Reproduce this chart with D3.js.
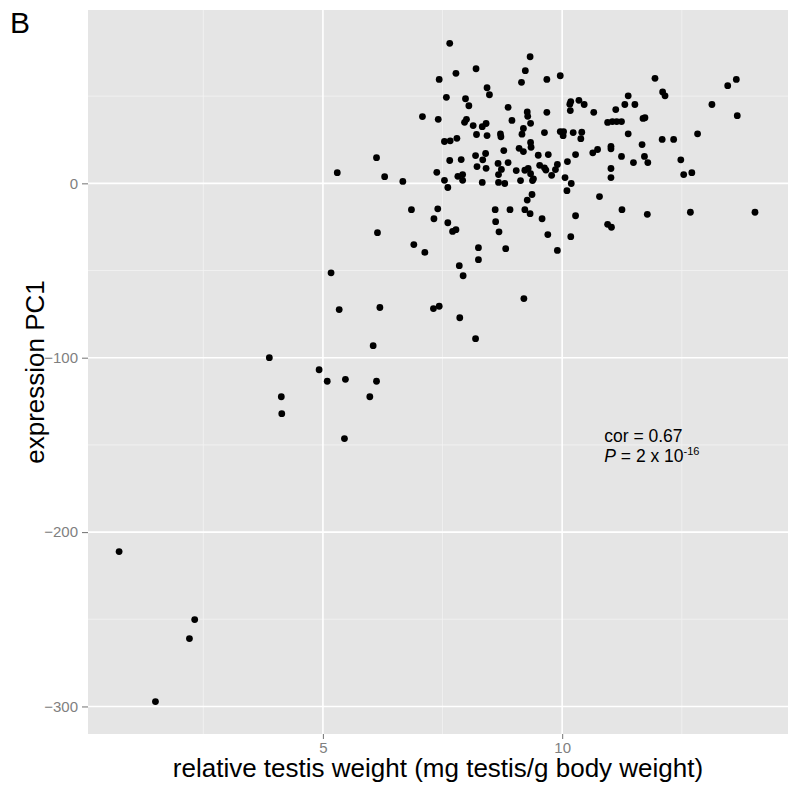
<!DOCTYPE html>
<html><head><meta charset="utf-8">
<script src="https://cdn.jsdelivr.net/npm/d3@7"></script>
<style>body{margin:0;background:#fff}</style>
</head><body>
<svg id="chart" width="799" height="798"></svg>
<script>
const testisWeight = [5.30,6.12,6.29,7.65,9.33,8.20,9.23,7.78,9.96,7.43,
9.15,9.68,11.94,13.64,13.46,8.43,8.48,11.38,12.10,12.15,
7.58,7.98,8.05,10.18,10.16,10.35,10.46,11.31,11.52,13.13,
8.87,10.17,11.12,10.66,9.68,9.27,9.28,13.66,7.08,7.41,
8.00,7.96,8.95,9.34,10.95,11.05,11.14,11.24,11.73,11.69,
8.14,8.33,8.41,9.19,9.16,8.21,8.43,8.71,8.72,9.63,
9.96,10.03,10.02,10.23,10.41,10.39,11.38,12.09,12.33,12.83,
7.54,7.66,7.80,9.34,9.35,9.10,9.19,8.78,11.02,11.02,
11.67,10.64,10.74,8.19,8.40,8.34,9.50,9.71,10.28,11.24,
11.72,11.79,11.49,12.48,7.65,7.89,8.87,8.66,8.73,8.67,
8.22,8.41,9.04,9.22,9.29,9.34,9.40,9.38,9.53,9.63,
9.66,9.78,9.86,9.90,10.11,11.02,11.02,12.54,12.71,7.38,
7.54,7.61,7.82,7.92,7.92,8.33,8.67,8.80,9.13,10.06,
10.19,10.10,9.37,9.27,10.78,6.67,6.85,7.40,7.32,7.61,
7.71,7.78,6.14,6.90,7.13,8.25,8.25,8.82,8.60,8.91,
8.61,8.68,9.22,9.33,9.58,9.70,7.85,7.93,5.17,5.34,
6.19,7.31,7.43,7.86,8.19,9.20,6.05,9.90,10.18,10.28,
11.25,11.78,12.68,14.03,10.95,11.03,3.88,4.92,5.09,5.47,
6.12,4.13,5.98,4.14,5.45,0.74,2.32,2.21,1.50];
const expressionPC1 = [6.1,14.7,3.8,80.3,72.6,65.7,64.6,63.1,61.7,59.6,
57.9,59.6,60.2,59.6,56.0,54.8,50.8,50.2,52.4,50.2,
49.3,48.5,44.5,46.9,45.4,47.6,45.2,45.2,45.2,45.2,
43.6,41.7,42.3,40.7,40.7,40.9,38.4,38.8,38.3,36.7,
36.7,35.0,36.1,34.4,34.9,35.4,35.4,35.4,37.6,37.2,
33.1,32.5,34.3,31.5,28.2,28.0,27.4,28.3,26.7,29.1,
29.7,29.7,27.3,29.1,29.3,25.6,28.4,25.2,25.2,28.4,
24.0,24.4,25.8,23.4,20.7,20.1,18.2,18.8,21.2,19.8,
22.2,17.5,19.4,15.9,17.1,13.5,16.1,16.5,16.5,15.4,
15.4,11.9,11.9,13.5,13.1,13.6,11.9,11.4,8.0,5.0,
9.6,8.6,7.3,7.5,8.5,5.5,2.6,1.6,10.3,8.9,
7.6,4.6,7.9,10.8,12.5,8.5,3.3,5.0,6.1,6.3,
1.7,-2.4,4.0,5.0,1.7,0.5,0.5,-0.1,1.6,3.3,
-0.1,-4.2,-6.4,-9.6,-7.6,1.1,-15.1,-14.6,-20.3,-22.6,
-27.6,-26.6,-28.3,-35.1,-39.6,-36.9,-43.8,-37.5,-15.1,-15.1,
-22.0,-27.8,-15.1,-17.4,-20.3,-29.4,-47.2,-53.0,-51.3,-72.4,
-71.2,-71.8,-70.5,-77.1,-89.1,-66.1,-93.1,-38.5,-30.6,-18.6,
-15.1,-17.8,-16.6,-16.6,-23.5,-25.2,-100.0,-106.9,-113.5,-112.4,
-113.5,-122.4,-122.4,-132.1,-146.4,-211.2,-250.2,-261.1,-297.2];
const xTicks = [5, 10];
const xMinorTicks = [2.5, 7.5, 12.5];
const yTicks = [-300, -200, -100, 0];
const yMinorTicks = [-250, -150, -50, 50];
const xDomain = [0.09, 14.72];
const yDomain = [-315.8, 99.4];
const panelLabel = "B";
const xTitle = "relative testis weight (mg testis/g body weight)";
const yTitle = "expression PC1";
const corText = "cor = 0.67";
const annotX = 10.88, annotY1 = -148.2, annotY2 = -159.6;

const svg = d3.select("#chart");
const font = "'Liberation Sans', Arial, Helvetica, sans-serif";
const L = 88, R = 788, T = 10, B = 734;
const x = d3.scaleLinear().domain(xDomain).range([L, R]);
const y = d3.scaleLinear().domain(yDomain).range([B, T]);

svg.append("rect").attr("x", L).attr("y", T).attr("width", R - L).attr("height", B - T).attr("fill", "#E5E5E5");

const grid = svg.append("g");
grid.selectAll("line.xm").data(xMinorTicks).join("line")
  .attr("x1", d => x(d)).attr("x2", d => x(d)).attr("y1", T).attr("y2", B)
  .attr("stroke", "#F2F2F2").attr("stroke-width", 0.8);
grid.selectAll("line.ym").data(yMinorTicks).join("line")
  .attr("y1", d => y(d)).attr("y2", d => y(d)).attr("x1", L).attr("x2", R)
  .attr("stroke", "#F2F2F2").attr("stroke-width", 0.8);
grid.selectAll("line.xM").data(xTicks).join("line")
  .attr("x1", d => x(d)).attr("x2", d => x(d)).attr("y1", T).attr("y2", B)
  .attr("stroke", "#FFFFFF").attr("stroke-width", 1.6);
grid.selectAll("line.yM").data(yTicks).join("line")
  .attr("y1", d => y(d)).attr("y2", d => y(d)).attr("x1", L).attr("x2", R)
  .attr("stroke", "#FFFFFF").attr("stroke-width", 1.6);

const pts = testisWeight.map((v, i) => [v, expressionPC1[i]]);
svg.append("g").selectAll("circle").data(pts).join("circle")
  .attr("cx", d => x(d[0])).attr("cy", d => y(d[1])).attr("r", 3.4).attr("fill", "#000");

const fmt = d => d < 0 ? "\u2212" + Math.abs(d) : String(d);
const xAxis = svg.append("g").attr("transform", `translate(0,${B})`)
  .call(d3.axisBottom(x).tickValues(xTicks).tickSize(5).tickPadding(3).tickFormat(fmt));
const yAxis = svg.append("g").attr("transform", `translate(${L},0)`)
  .call(d3.axisLeft(y).tickValues(yTicks).tickSize(6).tickPadding(4).tickFormat(fmt));
[xAxis, yAxis].forEach(a => {
  a.select(".domain").remove();
  a.selectAll(".tick line").attr("stroke", "#7F7F7F").attr("stroke-width", 1.1);
  a.selectAll(".tick text").attr("fill", "#7F7F7F").attr("font-size", 15).attr("font-family", font);
});

svg.append("text").attr("x", (L + R) / 2).attr("y", 777).attr("text-anchor", "middle")
  .attr("font-family", font).attr("font-size", 26).attr("fill", "#000").text(xTitle);
svg.append("text").attr("transform", `translate(44,${(T + B) / 2}) rotate(-90)`).attr("text-anchor", "middle")
  .attr("font-family", font).attr("font-size", 26).attr("fill", "#000").text(yTitle);
svg.append("text").attr("x", 10).attr("y", 33).attr("font-family", font).attr("font-size", 30).attr("fill", "#000").text(panelLabel);

svg.append("text").attr("x", x(annotX)).attr("y", y(annotY1)).attr("font-family", font).attr("font-size", 17.5).text(corText);
const t2 = svg.append("text").attr("x", x(annotX)).attr("y", y(annotY2)).attr("font-family", font).attr("font-size", 17.5);
t2.append("tspan").attr("font-style", "italic").text("P");
t2.append("tspan").text(" = 2 x 10");
t2.append("tspan").attr("font-size", 11).attr("dy", -7).text("-16");
</script>
</body></html>
